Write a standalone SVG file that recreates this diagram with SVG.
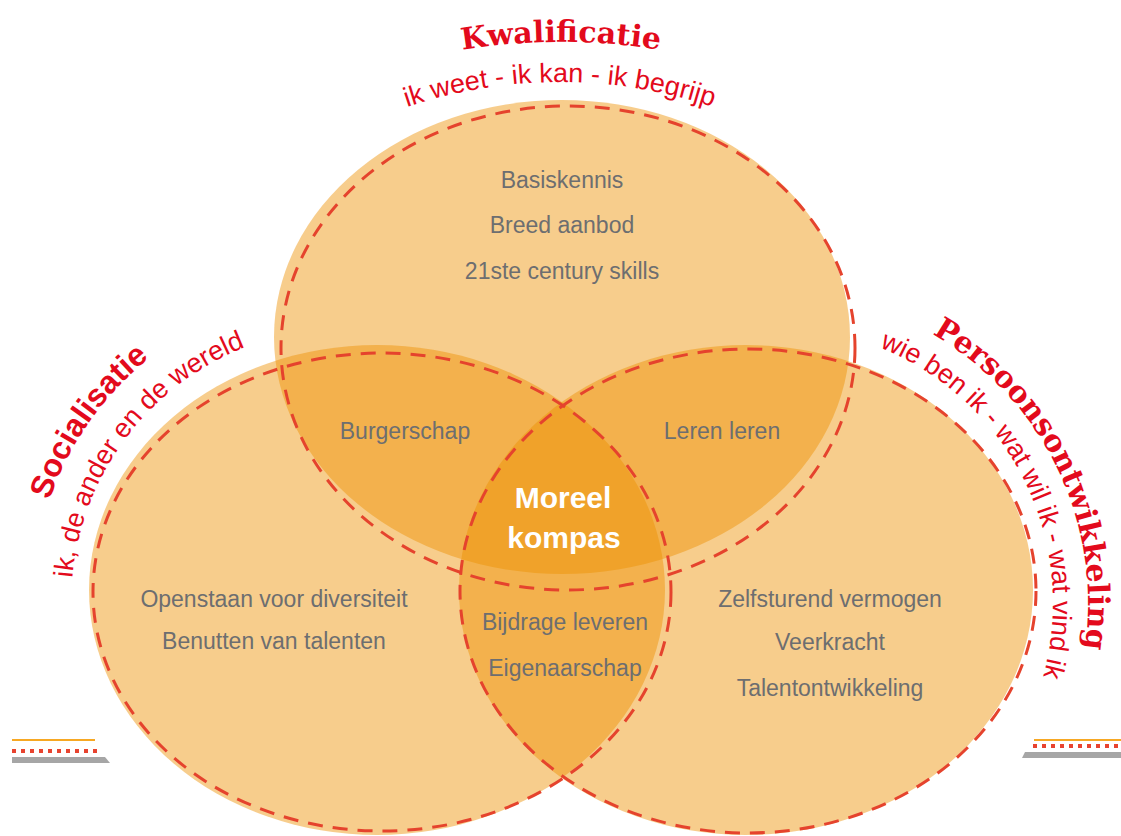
<svg xmlns="http://www.w3.org/2000/svg" width="1121" height="836" viewBox="0 0 1121 836">
<style>
.fill{fill:#EE9000;fill-opacity:0.45}
.dash{fill:none;stroke:#E5432D;stroke-width:3;stroke-dasharray:15 10}
.lbl{font-family:"Liberation Sans",Arial,sans-serif;font-size:23px;fill:#6D6E70;text-anchor:middle}
.core{font-family:"Liberation Sans",Arial,sans-serif;font-size:30px;font-weight:bold;fill:#FFFFFF;text-anchor:middle}
.ttl{font-family:"DejaVu Serif",serif;font-weight:bold;font-size:30px;fill:#E30A1C}
.ttls{font-family:"Liberation Sans",Arial,sans-serif;font-weight:bold;font-size:32px;fill:#E30A1C}
.sub{font-family:"Liberation Sans",Arial,sans-serif;font-size:27px;fill:#E30A1C}
</style>
<defs>
<path id="pTopT" d="M350.3,79.1 A616,616 0 0 1 771.7,79.1"/>
<path id="pTopS" d="M320,146.3 A480,480 0 0 1 800,146.3"/>
<path id="pLeftT" d="M36.8,548.5 A314,314 0 0 1 238.6,307.9"/>
<path id="pLeftS" d="M75.2,650.8 A275,275 0 0 1 346,328"/>
<path id="pRightT" d="M831.8,297.7 A310,310 0 0 1 1046.5,758"/>
<path id="pRightS" d="M778,328 A275,275 0 0 1 1016.2,740.5"/>
</defs>
<rect width="1121" height="836" fill="#FFFFFF"/>

<g id="decor-left">
<line x1="12" y1="740" x2="95" y2="740" stroke="#F7A823" stroke-width="2"/>
<line x1="12" y1="751" x2="102" y2="751" stroke="#E8432F" stroke-width="4" stroke-dasharray="4 5"/>
<polygon points="12,757 105,757 110,763 12,763" fill="#A6A6A6"/>
</g>
<g id="decor-right">
<line x1="1034" y1="740" x2="1121" y2="740" stroke="#F7A823" stroke-width="2"/>
<line x1="1033" y1="746" x2="1121" y2="746" stroke="#E8432F" stroke-width="4" stroke-dasharray="4 5"/>
<polygon points="1025,752 1121,752 1121,758 1022,758" fill="#A6A6A6"/>
</g>

<g id="kwalificatie">
<ellipse class="fill" cx="562" cy="337" rx="288" ry="237"/>
<text class="ttl" text-anchor="middle"><textPath href="#pTopT" startOffset="215">Kwalificatie</textPath></text>
<text class="sub" text-anchor="middle" font-size="28"><textPath href="#pTopS" startOffset="251">ik weet - ik kan - ik begrijp</textPath></text>
</g>
<g id="socialisatie">
<ellipse class="fill" cx="377" cy="590" rx="288" ry="245"/>
<text class="ttls" text-anchor="middle"><textPath href="#pLeftT" startOffset="138">Socialisatie</textPath></text>
<text class="sub" text-anchor="middle"><textPath href="#pLeftS" startOffset="225">ik, de ander en de wereld</textPath></text>
</g>
<g id="persoonsontwikkeling">
<ellipse class="fill" cx="746" cy="590" rx="287" ry="245"/>
<text class="ttl" text-anchor="middle" font-size="29"><textPath href="#pRightT" startOffset="293">Persoonsontwikkeling</textPath></text>
<text class="sub" text-anchor="middle"><textPath href="#pRightS" startOffset="305">wie ben ik - wat wil ik - wat vind ik</textPath></text>
</g>

<g id="connectors">
<ellipse class="dash" cx="568" cy="348" rx="287" ry="242"/>
<ellipse class="dash" cx="382" cy="592" rx="289" ry="239"/>
<ellipse class="dash" cx="748" cy="591" rx="288" ry="242"/>
</g>

<g id="labels-top">
<text class="lbl" x="562" y="188">Basiskennis</text>
<text class="lbl" x="562" y="233">Breed aanbod</text>
<text class="lbl" x="562" y="279">21ste century skills</text>
</g>
<g id="label-burgerschap"><text class="lbl" x="405" y="439">Burgerschap</text></g>
<g id="label-leren"><text class="lbl" x="722" y="439">Leren leren</text></g>
<g id="moreel-kompas">
<text class="core" x="563" y="508">Moreel</text>
<text class="core" x="564" y="548">kompas</text>
</g>
<g id="labels-left">
<text class="lbl" x="274" y="607">Openstaan voor diversiteit</text>
<text class="lbl" x="274" y="649">Benutten van talenten</text>
</g>
<g id="labels-bottom">
<text class="lbl" x="565" y="630">Bijdrage leveren</text>
<text class="lbl" x="565" y="676">Eigenaarschap</text>
</g>
<g id="labels-right">
<text class="lbl" x="830" y="607">Zelfsturend vermogen</text>
<text class="lbl" x="830" y="650">Veerkracht</text>
<text class="lbl" x="830" y="696">Talentontwikkeling</text>
</g>
</svg>
